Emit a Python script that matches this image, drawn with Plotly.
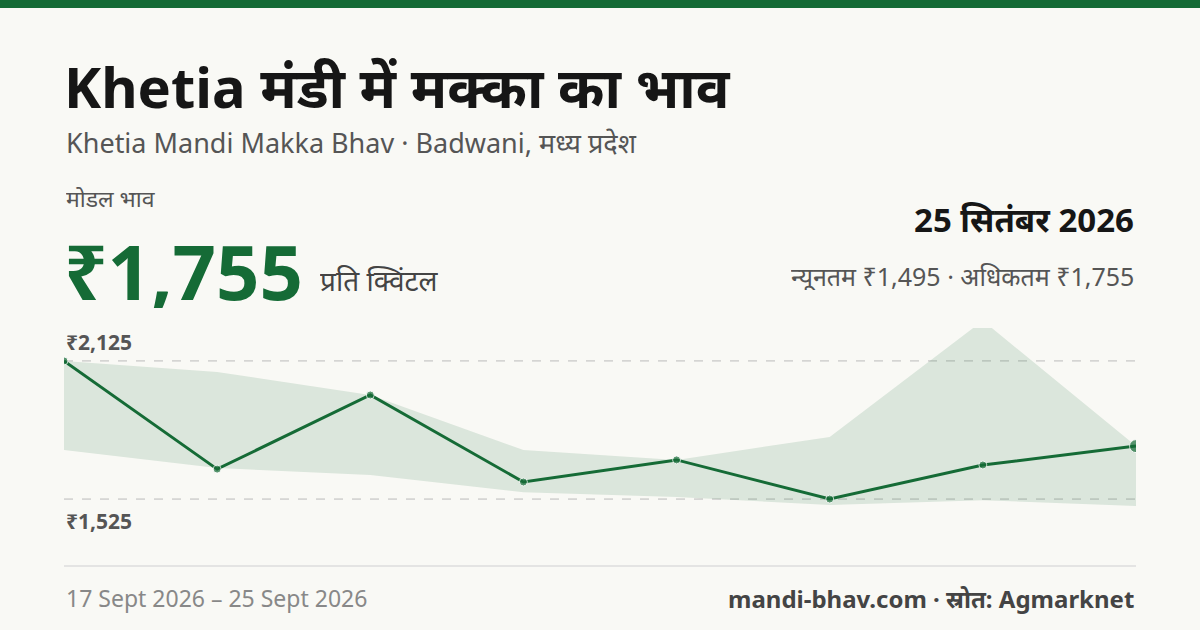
import plotly.graph_objects as go

# data
dates = ["17 Sept", "18 Sept", "19 Sept", "20 Sept", "22 Sept", "23 Sept", "24 Sept", "25 Sept"]
modal = [2125, 1655, 1977, 1599, 1695, 1525, 1673, 1755]
max_price = [2125, 2077, 1977, 1738, 1695, 1795, 2300, 1755]
min_price = [1738, 1660, 1630, 1555, 1534, 1499, 1520, 1495]
ref_lines = [2125, 1525]
ref_labels = ["₹2,125", "₹1,525"]

W, H = 1200, 630
GREEN = "#156b36"
FONT = "Noto Sans, Noto Sans Devanagari, sans-serif"


def px(x):
    return x / W


def py(y):
    return 1 - y / H


idx = list(range(len(dates)))
fig = go.Figure()
fig.add_trace(go.Scatter(x=idx, y=min_price, mode="lines", line=dict(width=0),
                         showlegend=False, hoverinfo="skip"))
fig.add_trace(go.Scatter(x=idx, y=max_price, mode="lines", line=dict(width=0),
                         fill="tonexty", fillcolor="rgba(21,107,54,0.13)",
                         showlegend=False, hoverinfo="skip"))
fig.add_trace(go.Scatter(x=idx, y=modal, mode="lines+markers", line=dict(color=GREEN, width=3),
                         marker=dict(size=[8] * 7 + [13], color=GREEN),
                         showlegend=False, text=dates))

for v in ref_lines:
    fig.add_shape(type="line", xref="paper", yref="y", x0=px(64), x1=px(1136), y0=v, y1=v,
                  line=dict(color="#bbbbbb", width=1, dash="dash"), layer="below")
fig.add_annotation(xref="paper", yref="y", x=px(64), y=ref_lines[0], text="<b>" + ref_labels[0] + "</b>",
                   showarrow=False, xanchor="left", yanchor="bottom", yshift=3,
                   font=dict(size=21, color="#555555", family=FONT))
fig.add_annotation(xref="paper", yref="y", x=px(64), y=ref_lines[1], text="<b>" + ref_labels[1] + "</b>",
                   showarrow=False, xanchor="left", yanchor="top", yshift=-6,
                   font=dict(size=21, color="#555555", family=FONT))

fig.add_shape(type="rect", xref="paper", yref="paper", x0=0, x1=1, y0=py(8), y1=1,
              fillcolor=GREEN, line_width=0)
fig.add_shape(type="line", xref="paper", yref="paper", x0=px(64), x1=px(1136), y0=py(566), y1=py(566),
              line=dict(color="#dddddd", width=1.5))


def text(x, y, s, size, color, anchor="left", bold=False, height=None):
    fig.add_annotation(xref="paper", yref="paper", x=px(x), y=py(y), text="<b>" + s + "</b>" if bold else s,
                       showarrow=False, xanchor=anchor, yanchor="middle", height=height,
                       font=dict(size=size, color=color, family=FONT))


text(62, 86, "Khetia मंडी में मक्का का भाव", 56, "#161616", bold=True, height=62)
text(64, 142, "Khetia Mandi Makka Bhav · Badwani, मध्य प्रदेश", 27, "#555555", height=30)
text(64, 198, "मोडल भाव", 23, "#555555", height=24)
text(62, 270, "₹1,755", 76, GREEN, bold=True, height=76)
text(318, 280, "प्रति क्विंटल", 28, "#444444", height=30)
text(1136, 219, "25 सितंबर 2026", 33, "#161616", anchor="right", bold=True, height=36)
text(1136, 276, "न्यूनतम ₹1,495 · अधिकतम ₹1,755", 25, "#555555", anchor="right", height=28)
text(64, 598, "17 Sept 2026 – 25 Sept 2026", 23, "#888888")
text(1136, 598, "mandi-bhav.com · स्रोत: Agmarknet", 24, "#444444", anchor="right", bold=True)

fig.update_layout(
    width=W, height=H, margin=dict(l=0, r=0, t=0, b=0),
    paper_bgcolor="#f9f9f5", plot_bgcolor="rgba(0,0,0,0)",
    xaxis=dict(domain=[px(64), px(1136)], range=[0, len(dates) - 1], visible=False),
    yaxis=dict(domain=[py(520), py(328)], range=[1434, 2268], visible=False),
)
fig.write_html("out.html", config={"displayModeBar": False},
               post_script="document.body.style.margin='0';")
